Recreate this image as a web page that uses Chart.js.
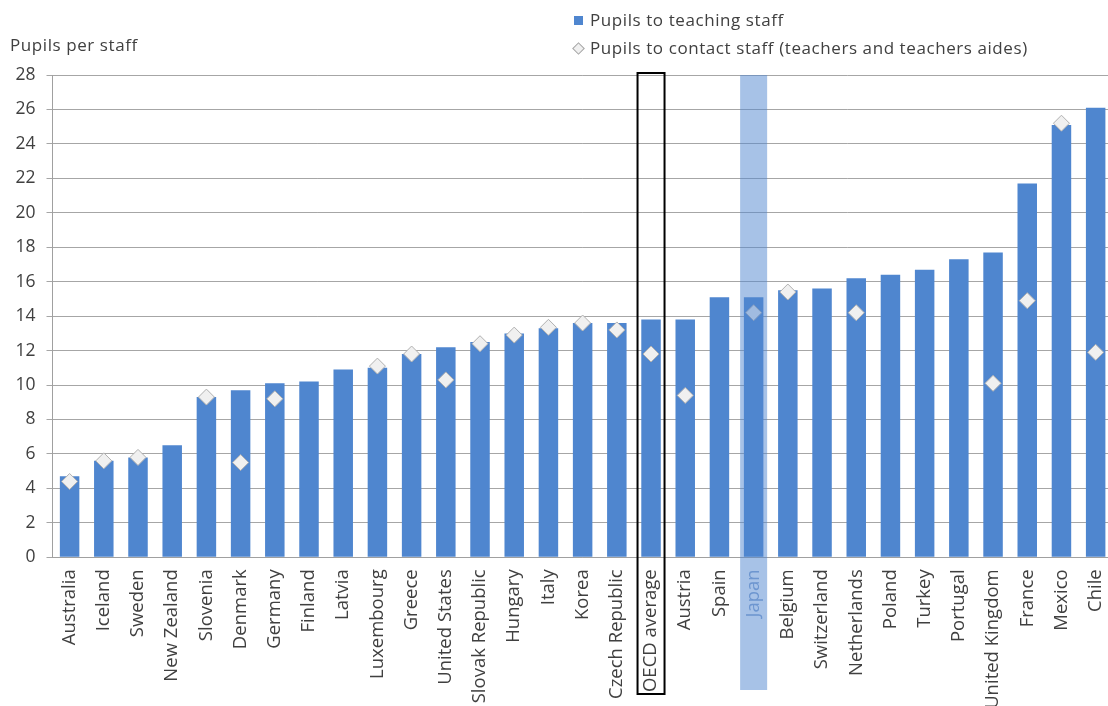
<!DOCTYPE html>
<html>
<head>
<meta charset="utf-8">
<script src="https://cdn.jsdelivr.net/npm/chart.js@4/dist/chart.umd.min.js"></script>
<style>
  html, body { margin: 0; padding: 0; background: #fff; overflow: hidden; width: 1108px; height: 706px; }
  #wrap { position: absolute; left: 0; top: 0; width: 1130px; height: 706px; }
  .txt { position: absolute; font-family: "Open Sans", sans-serif; color: #404040; white-space: nowrap; letter-spacing: 0.58px; font-size: 17px; }
  .sq { position: absolute; width: 9px; height: 9px; background: #4f86cf; }
  .dm { position: absolute; width: 7px; height: 7px; background: #f0f0f0; border: 1px solid #a6a6a6; transform: rotate(45deg); }
</style>
</head>
<body>
<div id="wrap"><canvas id="c" width="1130" height="706"></canvas></div>
<div class="sq" style="left:574px; top:16px;"></div>
<div class="txt" style="left:590px; top:8px;">Pupils to teaching staff</div>
<div class="dm" style="left:574px; top:44px;"></div>
<div class="txt" style="left:590px; top:36px;">Pupils to contact staff (teachers and teachers aides)</div>
<div class="txt" style="left:10px; top:33px;">Pupils per staff</div>
<script>
const categories = ["Australia","Iceland","Sweden","New Zealand","Slovenia","Denmark","Germany","Finland","Latvia","Luxembourg","Greece","United States","Slovak Republic","Hungary","Italy","Korea","Czech Republic","OECD average","Austria","Spain","Japan","Belgium","Switzerland","Netherlands","Poland","Turkey","Portugal","United Kingdom","France","Mexico","Chile"];
const teachingStaff = [4.7,5.6,5.8,6.5,9.3,9.7,10.1,10.2,10.9,11.0,11.8,12.2,12.5,13.0,13.3,13.6,13.6,13.8,13.8,15.1,15.1,15.5,15.6,16.2,16.4,16.7,17.3,17.7,21.7,25.1,26.1];
const contactStaff = [4.4,5.6,5.8,null,9.3,5.5,9.2,null,null,11.1,11.8,10.3,12.4,12.9,13.35,13.6,13.2,11.8,9.4,null,14.2,15.4,null,14.2,null,null,null,10.1,14.9,25.2,11.9];
const yTicks = [0,2,4,6,8,10,12,14,16,18,20,22,24,26,28];
const highlightCategory = "Japan";
const boxedCategory = "OECD average";

const overlay = {
  id: 'overlay',
  afterDraw(chart) {
    const ctx = chart.ctx;
    const xs = chart.scales.x;
    const top = chart.chartArea.top;
    const jx = xs.getPixelForValue(categories.indexOf(highlightCategory));
    ctx.save();
    ctx.fillStyle = 'rgba(79,134,207,0.5)';
    ctx.fillRect(jx - 13.5, top, 27, 690 - top);
    const ox = xs.getPixelForValue(categories.indexOf(boxedCategory));
    ctx.strokeStyle = '#000';
    ctx.lineWidth = 2;
    ctx.strokeRect(ox - 13.5, top - 2, 27, 694 - (top - 2));
    ctx.restore();
  }
};

new Chart(document.getElementById('c'), {
  type: 'bar',
  data: {
    labels: categories,
    datasets: [
      {
        type: 'line',
        label: 'Pupils to contact staff (teachers and teachers aides)',
        data: contactStaff,
        showLine: false,
        pointStyle: 'rectRot',
        pointRadius: 8,
        pointHoverRadius: 8,
        pointBackgroundColor: '#f0f0f0',
        pointBorderColor: '#b0b0b0',
        pointBorderWidth: 1,
        order: 0
      },
      {
        type: 'bar',
        label: 'Pupils to teaching staff',
        data: teachingStaff,
        backgroundColor: '#4f86cf',
        barPercentage: 0.57,
        categoryPercentage: 1.0,
        order: 1
      }
    ]
  },
  options: {
    responsive: false,
    animation: false,
    events: [],
    layout: { padding: { top: 75, left: 0, right: 0, bottom: 0 } },
    plugins: { legend: { display: false }, tooltip: { enabled: false } },
    scales: {
      x: {
        offset: true,
        grid: { display: false, drawTicks: false },
        border: { display: true, color: '#a0a0a0', width: 1 },
        ticks: {
          autoSkip: false,
          maxRotation: 90,
          minRotation: 90,
          padding: 12,
          font: { family: 'Open Sans', size: 18.5 },
          color: (c) => categories[c.index] === highlightCategory ? '#8aa6d0' : '#404040'
        },
        afterFit(s) { s.height = 706 - 557.3; }
      },
      y: {
        min: 0, max: 28,
        afterBuildTicks(s) { s.ticks = yTicks.map(v => ({ value: v })); },
        grid: { color: '#a6a6a6', lineWidth: 1, tickLength: 6, drawTicks: true },
        border: { display: true, color: '#a0a0a0', width: 1 },
        ticks: { padding: 11, font: { family: 'Open Sans', size: 17.5 }, color: '#404040' },
        afterFit(s) { s.width = 52.5; }
      }
    }
  },
  plugins: [overlay]
});
</script>
</body>
</html>
